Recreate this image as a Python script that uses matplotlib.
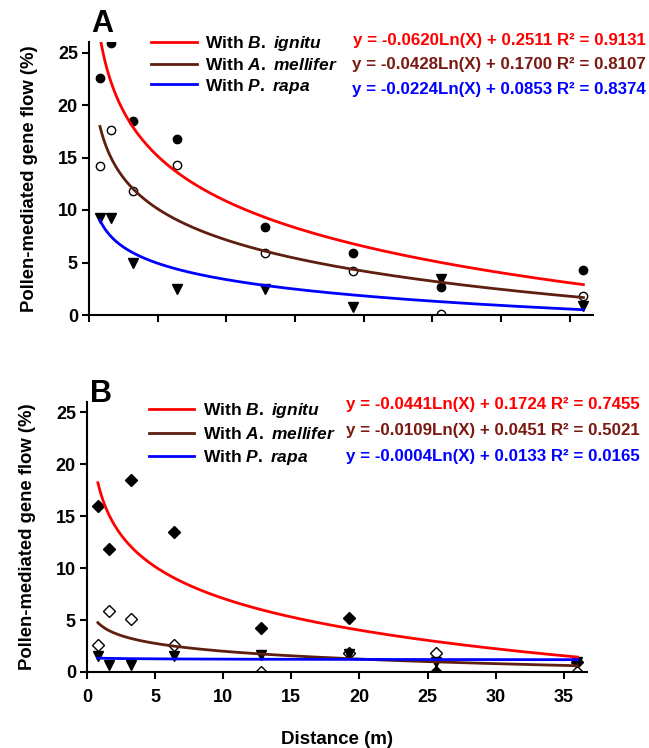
import numpy as np
import matplotlib
matplotlib.use("Agg")
import matplotlib.pyplot as plt

plt.rcParams['font.family'] = ['Liberation Sans', 'DejaVu Sans']
plt.rcParams['font.weight'] = 'bold'
plt.rcParams['mathtext.fontset'] = 'custom'
plt.rcParams['mathtext.it'] = 'Liberation Sans:italic:bold'
plt.rcParams['mathtext.rm'] = 'Liberation Sans:bold'

# ---- data ----
distance = [0.8, 1.6, 3.2, 6.4, 12.8, 19.2, 25.6, 36]

a_bignitus = [22.6, 25.9, 18.5, 16.8, 8.4, 5.9, 2.7, 4.3]
a_amellifera = [14.2, 17.6, 11.8, 14.3, 5.9, 4.2, 0.1, 1.8]
a_prapae = [9.2, 9.2, 5.0, 2.5, 2.5, 0.8, 3.4, 0.9]

b_bignitus = [16.0, 11.8, 18.5, 13.5, 4.2, 5.2, 0.0, 1.0]
b_amellifera = [2.6, 5.9, 5.1, 2.6, 0.0, 1.8, 1.8, 0.0]
b_prapae = [1.5, 0.7, 0.7, 1.5, 1.6, 1.7, 1.0, 1.0]

# log trend-line coefficients (slope, intercept, R2) as printed on the chart
a_fits = [(-0.0620, 0.2511, 0.9131), (-0.0428, 0.1700, 0.8107), (-0.0224, 0.0853, 0.8374)]
b_fits = [(-0.0441, 0.1724, 0.7455), (-0.0109, 0.0451, 0.5021), (-0.0004, 0.0133, 0.0165)]

labels = ["With $\\it{B.\\ ignitu}$", "With $\\it{A.\\ mellifer}$", "With $\\it{P.\\ rapa}$"]
line_colors = ["#FF0000", "#5E1F10", "#0000FF"]
eq_colors = ["#FF0000", "#7A1A12", "#0000FF"]
yticks = [0, 5, 10, 15, 20, 25]
xticks = [0, 5, 10, 15, 20, 25, 30, 35]

W, H = 649, 748
fig = plt.figure(figsize=(W / 100, H / 100), dpi=100)


def px_axes(left, top, right, bottom):
    return fig.add_axes([left / W, 1 - bottom / H, (right - left) / W, (bottom - top) / H])


axA = px_axes(89, 42, 593, 315)
axB = px_axes(87, 402, 587, 672)


def draw(ax, filled, opened, tri, fits, filled_marker, letter, show_xlabels,
         leg_y, leg_space, eq_top, eq_step, letter_y):
    x = np.array(distance)
    ax.plot(x, filled, linestyle='none', marker=filled_marker, ms=6, mfc='black', mec='black', zorder=2)
    ax.plot(x, opened, linestyle='none', marker=filled_marker, ms=6, mfc='white', mec='black', mew=1.0, zorder=2)
    ax.plot(x, tri, linestyle='none', marker='v', ms=7, mfc='black', mec='black', zorder=2)
    xs = np.linspace(min(distance), max(distance), 300)
    handles = []
    for (s, b, r2), c in zip(fits, line_colors):
        ys = (s * np.log(xs) + b) * 100
        h, = ax.plot(xs, ys, color=c, lw=2.0, zorder=3)
        handles.append(h)
    ax.set_xlim(0, 36.7)
    ax.set_ylim(0, 26)
    ax.set_yticks(yticks)
    ax.set_xticks(xticks)
    if not show_xlabels:
        ax.set_xticklabels([])
    for sp in ['top', 'right']:
        ax.spines[sp].set_visible(False)
    for sp in ['left', 'bottom']:
        ax.spines[sp].set_linewidth(1.5)
    ax.tick_params(direction='out', length=5, width=1.5, labelsize=13)
    ax.tick_params(axis='x', pad=7)
    ax.tick_params(axis='y', pad=3)
    for lab in ax.get_xticklabels() + ax.get_yticklabels():
        lab.set_fontweight('bold')
    ax.set_ylabel("Pollen-mediated gene flow (%)", fontsize=13.3, fontweight='bold', labelpad=14)
    ax.legend(handles, labels, loc='upper left', bbox_to_anchor=(0.11, leg_y), frameon=False,
              fontsize=12.5, handlelength=2.6, handletextpad=0.5, labelspacing=leg_space, borderaxespad=0)
    for i, ((s, b, r2), c) in enumerate(zip(fits, eq_colors)):
        ax.text(1.105, eq_top - i * eq_step, "y = %.4fLn(X) + %.4f R\u00b2 = %.4f" % (s, b, r2),
                transform=ax.transAxes, ha='right', va='center', color=c, fontsize=12.2, fontweight='bold')
    ax.text(0.005, letter_y, letter, transform=ax.transAxes, fontsize=22, fontweight='bold',
            ha='left', va='center')


draw(axA, a_bignitus, a_amellifera, a_prapae, a_fits, 'o', 'A', False,
     leg_y=1.055, leg_space=0.22, eq_top=1.005, eq_step=0.089, letter_y=1.065)
draw(axB, b_bignitus, b_amellifera, b_prapae, b_fits, 'D', 'B', True,
     leg_y=1.03, leg_space=0.35, eq_top=0.99, eq_step=0.096, letter_y=1.03)
axB.set_xlabel("Distance (m)", fontsize=13.5, fontweight='bold', labelpad=18)

fig.savefig("out.png", dpi=100)
